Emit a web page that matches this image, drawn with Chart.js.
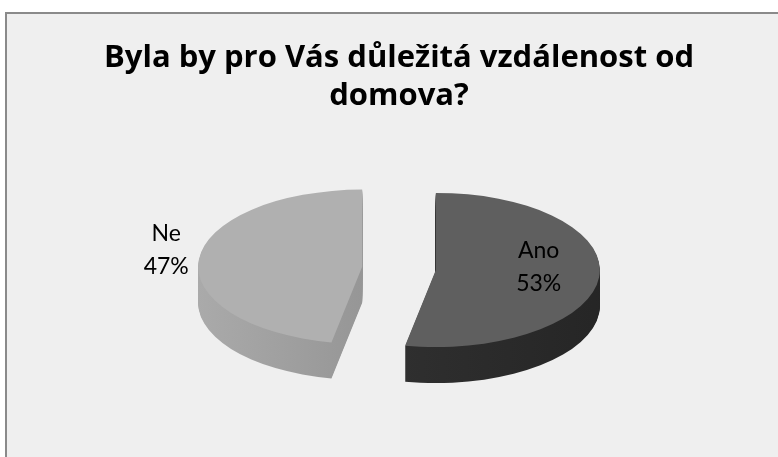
<!DOCTYPE html>
<html>
<head>
<meta charset="utf-8">
<script src="https://cdn.jsdelivr.net/npm/chart.js@4"></script>
<style>
  body { margin: 0; background: #ffffff; }
  #panel {
    position: absolute; left: 5px; top: 12px; width: 800px; height: 500px;
    background: #efefef; border: 2px solid #8a8a8a;
  }
  #pieChart { position: absolute; left: 0; top: 0; }
</style>
</head>
<body>
<div id="panel"></div>
<canvas id="pieChart" width="778" height="457"></canvas>
<script>
// data
const categories = ["Ano", "Ne"];
const values = [53, 47];
const titleLines = ["Byla by pro Vás důležitá vzdálenost od", "domova?"];

// barvy: vrch a bok výseče
const topColors = ["#5f5f5f", "#b0b0b0"];
const sideColors = [["#353535", "#242424"], ["#aaaaaa", "#7e7e7e"]];
const labelRadius = [0.63, 1.2]; // kde leží popisek (násobek poloměru)

const tilt = 0.47;     // zploštění elipsy
const depth = 36;      // výška boku v px
const explode = 37;    // vysunutí výsečí

// 3D pie - vlastní kreslení z prvků Chart.js
const pie3d = {
  id: "pie3d",
  beforeDatasetsDraw(chart) {
    const ctx = chart.ctx;
    const arcs = chart.getDatasetMeta(0).data;

    const drawArc = (arc, i, dy, fill) => {
      const mid = (arc.startAngle + arc.endAngle) / 2;
      const ghost = Object.create(arc);
      ghost.options = Object.assign({}, arc.options, {
        backgroundColor: fill, borderWidth: 0, offset: 0
      });
      ctx.save();
      ctx.translate(0, arc.y + dy);
      ctx.scale(1, tilt);
      ctx.translate(0, -arc.y);
      ctx.translate(Math.cos(mid) * explode, Math.sin(mid) * explode);
      ghost.draw(ctx);
      ctx.restore();
    };

    // boky
    for (let d = depth; d >= 1; d--) {
      arcs.forEach((arc, i) => {
        const g = ctx.createLinearGradient(arc.x - arc.outerRadius, 0, arc.x + arc.outerRadius + explode, 0);
        g.addColorStop(0, sideColors[i][0]);
        g.addColorStop(1, sideColors[i][1]);
        drawArc(arc, i, d, g);
      });
    }
    // vrch
    arcs.forEach((arc, i) => drawArc(arc, i, 0, topColors[i]));

    // popisky
    const total = values.reduce((a, b) => a + b, 0);
    ctx.save();
    ctx.fillStyle = "#000000";
    ctx.font = "23px Lato";
    ctx.textAlign = "center";
    ctx.textBaseline = "middle";
    arcs.forEach((arc, i) => {
      const mid = (arc.startAngle + arc.endAngle) / 2;
      const r = arc.outerRadius * labelRadius[i] + explode;
      const x = arc.x + Math.cos(mid) * r;
      const y = arc.y + Math.sin(mid) * r * tilt;
      const pct = Math.round(values[i] / total * 100) + "%";
      ctx.fillText(categories[i], x, y - 24);
      ctx.fillText(pct, x, y + 9);
    });
    ctx.restore();
    return false;
  }
};

const ctx = document.getElementById("pieChart").getContext("2d");

const pieChart = new Chart(ctx, {
  type: "pie",
  data: {
    labels: categories,
    datasets: [{
      data: values,
      backgroundColor: topColors,
      borderWidth: 0
    }]
  },
  options: {
    responsive: false,
    animation: false,
    radius: 164,
    layout: { padding: { left: 20, bottom: 37 } },
    plugins: {
      legend: { display: false },
      tooltip: { enabled: false },
      title: {
        display: true,
        text: titleLines,
        color: "#000000",
        font: { family: "Open Sans", size: 31, weight: "bold", lineHeight: 1.22 },
        padding: { top: 39, bottom: 2 }
      }
    }
  },
  plugins: [pie3d]
});
</script>
</body>
</html>
